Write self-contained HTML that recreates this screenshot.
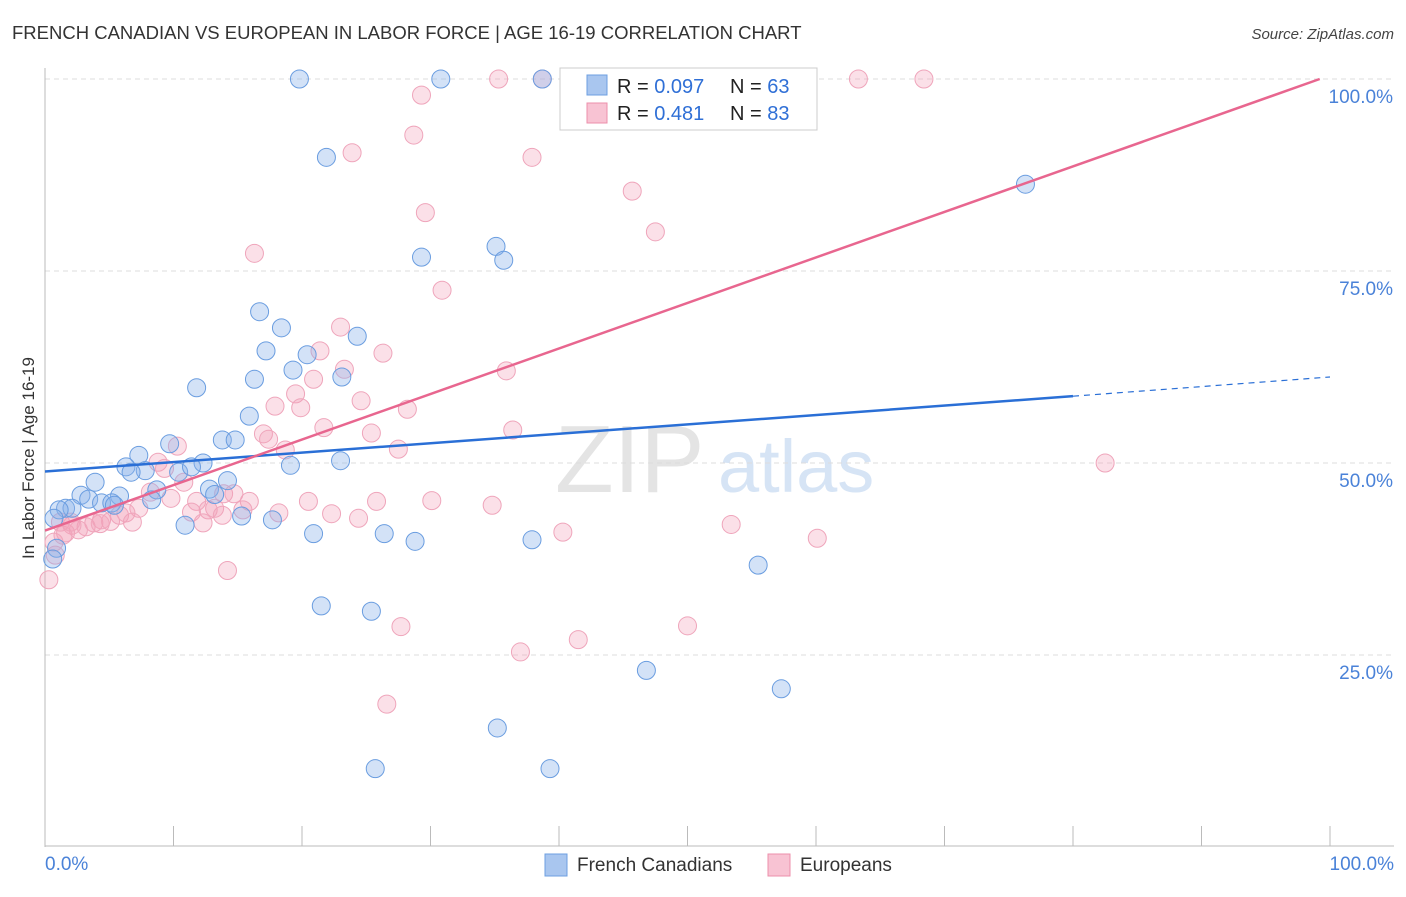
<!DOCTYPE html>
<html><head><meta charset="utf-8">
<style>
body{margin:0;background:#fff;font-family:"Liberation Sans",sans-serif;}
svg text{font-family:"Liberation Sans",sans-serif;}
</style></head>
<body>
<svg id="chart" width="1406" height="892" xmlns="http://www.w3.org/2000/svg">
<text x="12" y="39" font-size="18.5" fill="#333">FRENCH CANADIAN VS EUROPEAN IN LABOR FORCE | AGE 16-19 CORRELATION CHART</text>
<text x="1394" y="39" font-size="15" fill="#444" text-anchor="end" font-style="italic">Source: ZipAtlas.com</text>
<text x="555" y="492" font-size="96" fill="#e4e4e4" font-family="Liberation Serif,serif">ZIP</text>
<text x="718" y="492" font-size="74" fill="#d6e4f5">atlas</text>
<g id="grid"></g>
<g id="axes"></g>
<g id="pts"></g>
<g id="lines"></g>
<text transform="translate(34,458) rotate(-90)" font-size="17" fill="#333" text-anchor="middle">In Labor Force | Age 16-19</text>
<g>
<rect x="560" y="68" width="257" height="62" fill="#fff" stroke="#ccc"/>
<rect x="587" y="75" width="20" height="20" fill="#a9c6ef" stroke="#6d9fe0"/>
<rect x="587" y="103" width="20" height="20" fill="#f8c3d3" stroke="#ec8fab"/>
<text x="617" y="93" font-size="20" fill="#222">R = <tspan fill="#2f6fd6">0.097</tspan></text>
<text x="730" y="93" font-size="20" fill="#222">N = <tspan fill="#2f6fd6">63</tspan></text>
<text x="617" y="120" font-size="20" fill="#222">R = <tspan fill="#2f6fd6"> 0.481</tspan></text>
<text x="730" y="120" font-size="20" fill="#222">N = <tspan fill="#2f6fd6">83</tspan></text>
</g>
<g>
<rect x="545" y="854" width="22" height="22" fill="#a9c6ef" stroke="#6d9fe0"/>
<text x="577" y="871" font-size="19" fill="#333">French Canadians</text>
<rect x="768" y="854" width="22" height="22" fill="#f8c3d3" stroke="#ec8fab"/>
<text x="800" y="871" font-size="19" fill="#333">Europeans</text>
</g>
</svg>
<script>
const yTicks=[25,50,75,100];
const xTickLabels=["0.0%","100.0%"];
const blueX=[19.8,30.8,38.7,21.9,76.3,35.1,29.3,35.7,16.7,18.4,24.3,17.2,20.4,19.3,23.1,16.3,11.8,15.9,9.7,13.8,14.8,7.3,6.3,12.3,19.1,23.0,7.8,6.7,10.4,11.4,14.2,3.9,12.8,8.7,2.8,3.4,5.8,8.3,4.4,5.2,13.2,1.6,2.1,1.1,5.4,15.3,0.7,10.9,17.7,20.9,26.4,28.8,37.9,0.9,0.6,55.5,21.5,25.4,46.8,57.3,35.2,25.7,39.3];
const blueY=[100,100,100,89.8,86.3,78.2,76.8,76.4,69.7,67.6,66.5,64.6,64.1,62.1,61.2,60.9,59.8,56.1,52.5,53.0,53.0,51.0,49.5,50.0,49.7,50.3,49.0,48.8,48.8,49.5,47.7,47.5,46.6,46.5,45.8,45.3,45.7,45.2,44.8,44.8,45.9,44.1,44.1,43.9,44.5,43.1,42.8,41.9,42.6,40.8,40.8,39.8,40.0,38.9,37.5,36.7,31.4,30.7,23.0,20.6,15.5,10.2,10.2];
const pinkX=[35.3,38.7,41.6,63.3,68.4,29.3,28.7,23.9,37.9,45.7,29.6,47.5,16.3,30.9,23.0,21.4,26.3,23.3,35.9,20.9,19.5,24.6,28.2,19.9,17.9,36.4,21.7,25.4,17.0,17.4,27.5,18.7,10.3,82.5,8.8,9.3,10.8,8.2,13.9,14.7,9.8,11.8,15.9,20.5,25.8,30.1,34.8,18.2,13.2,12.7,11.4,7.3,5.8,6.3,22.3,24.4,15.4,13.8,4.4,3.8,5.1,6.8,3.2,2.6,2.1,1.4,1.6,12.3,53.4,40.3,60.1,14.2,0.8,0.3,27.7,50.0,41.5,37.0,26.6,0.7,1.2,2.0,4.3];
const pinkY=[100,100,100,100,100,97.9,92.7,90.4,89.8,85.4,82.6,80.1,77.3,72.5,67.7,64.6,64.3,62.2,62.0,60.9,59.0,58.1,57.0,57.2,57.4,54.3,54.6,53.9,53.8,53.1,51.8,51.7,52.2,50.0,50.1,49.3,47.5,46.2,46.0,46.0,45.4,45.0,45.0,45.0,45.0,45.1,44.5,43.5,44.1,43.9,43.6,44.1,43.2,43.5,43.4,42.8,43.9,43.2,42.6,42.2,42.4,42.3,41.7,41.3,41.9,40.6,40.9,42.2,42.0,41.0,40.2,36.0,38.0,34.8,28.7,28.8,27.0,25.4,18.6,39.7,42.3,42.3,42.1];
const blueFit=[[0,48.9],[80,58.7],[100,61.2]];
const pinkFit=[[0,41.2],[99.2,100]];
const X=v=>45+v*12.85, Y=v=>847-v*7.68;
const NS="http://www.w3.org/2000/svg";
function el(p,t,a){const e=document.createElementNS(NS,t);for(const k in a)e.setAttribute(k,a[k]);document.getElementById(p).appendChild(e);return e;}
yTicks.forEach(t=>{
 const l=el('grid','line',{x1:45,x2:1394,y1:Y(t),y2:Y(t),stroke:'#ddd','stroke-dasharray':'5,4'});
 
 
 const tx=el('grid','text',{x:1393,y:Y(t)+24,'font-size':19,fill:'#4a82d8','text-anchor':'end'});
 tx.textContent=t.toFixed(1)+'%';
 
 
});
const ax=el('axes','line',{x1:45,x2:45,y1:68,y2:847,stroke:'#bbb'});


const bx=el('axes','line',{x1:45,x2:1394,y1:846,y2:846,stroke:'#bbb'});


for(let i=1;i<=10;i++){const t=el('axes','line',{x1:X(i*10),x2:X(i*10),y1:826,y2:846,stroke:'#bbb'});
 
 }
[[0,'start',45],[100,'end',1394]].forEach((d,i)=>{const t=el('axes','text',{x:d[2],y:870,'font-size':19,fill:'#4a82d8','text-anchor':d[1]});t.textContent=xTickLabels[i];
 
 });
pinkX.forEach((x,i)=>{const c=el('pts','circle',{cx:X(x),cy:Y(pinkY[i]),r:9,fill:'rgba(244,160,186,0.33)',stroke:'#efa5bb','stroke-width':1});
 
 });
blueX.forEach((x,i)=>{const c=el('pts','circle',{cx:X(x),cy:Y(blueY[i]),r:9,fill:'rgba(140,180,235,0.38)',stroke:'#6a9de0','stroke-width':1});
 
 });
const bl=el('lines','line',{x1:X(blueFit[0][0]),y1:Y(blueFit[0][1]),x2:X(blueFit[1][0]),y2:Y(blueFit[1][1]),stroke:'#2a6fd6','stroke-width':2.5});


const bd=el('lines','line',{x1:X(blueFit[1][0]),y1:Y(blueFit[1][1]),x2:X(blueFit[2][0]),y2:Y(blueFit[2][1]),stroke:'#2a6fd6','stroke-width':1.2,'stroke-dasharray':'6,5'});


const pl=el('lines','line',{x1:X(pinkFit[0][0]),y1:Y(pinkFit[0][1]),x2:X(pinkFit[1][0]),y2:Y(pinkFit[1][1]),stroke:'#e8668f','stroke-width':2.5});


</script>
</body></html>
